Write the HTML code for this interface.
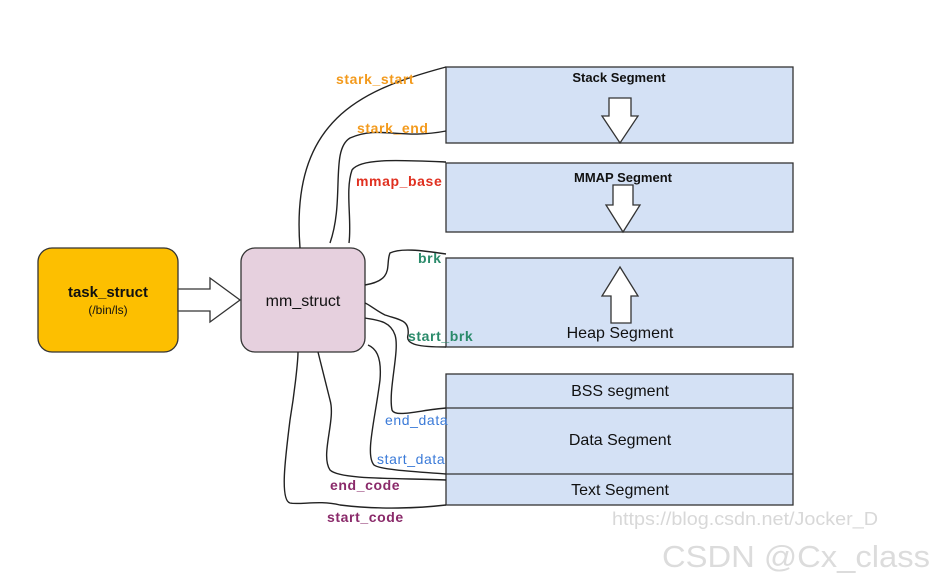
<!DOCTYPE html>
<html><head><meta charset="utf-8"><style>
body{margin:0;background:#fff;}
svg{display:block;font-family:"Liberation Sans",Arial,sans-serif;}
</style></head><body>
<svg width="946" height="582" viewBox="0 0 946 582" xmlns="http://www.w3.org/2000/svg">
<g fill="#d4e1f5" stroke="#333" stroke-width="1.3">
<rect x="446" y="67" width="347" height="76"/>
<rect x="446" y="163" width="347" height="69"/>
<rect x="446" y="258" width="347" height="89"/>
<rect x="446" y="374" width="347" height="131"/>
<line x1="446" y1="408" x2="793" y2="408"/>
<line x1="446" y1="474" x2="793" y2="474"/>
</g>
<rect x="38" y="248" width="140" height="104" rx="14" fill="#fdbf00" stroke="#333" stroke-width="1.3"/>
<rect x="241" y="248" width="124" height="104" rx="14" fill="#e6d0de" stroke="#333" stroke-width="1.3"/>
<g fill="#fff" stroke="#333" stroke-width="1.3">
<path d="M178,289 H210 V278 L240,300 L210,322 V311 H178 Z"/>
<path d="M609,98 H631 V116 H638 L620,143 L602,116 H609 Z"/>
<path d="M613,185 H633 V205 H640 L623,232 L606,205 H613 Z"/>
<path d="M611,323 H631 V296 H638 L620,267 L602,296 H611 Z"/>
</g>
<g fill="none" stroke="#222" stroke-width="1.4">
<path d="M446,67 C360,90 290,120 300,248"/>
<path d="M446,131 C400,140 380,125 350,138 C330,150 345,200 330,243"/>
<path d="M446,162 C400,160 360,158 352,170 C345,190 352,220 349,243"/>
<path d="M446,254 C420,250 400,248 390,253 C385,265 395,280 365,285"/>
<path d="M446,347 C420,347 405,345 408,335 C410,320 400,320 385,315 C375,310 370,305 365,303"/>
<path d="M446,408 C420,410 395,418 392,410 C388,390 400,350 395,335 C390,320 375,320 365,318"/>
<path d="M446,474 C420,472 380,470 374,465 C365,455 375,420 380,380 C382,355 375,348 368,345"/>
<path d="M446,480 C400,478 340,480 330,470 C320,455 336,420 330,400 C325,380 320,360 318,352"/>
<path d="M446,505 C420,508 380,510 340,505 C320,500 300,505 290,503 C280,500 285,460 290,420 C295,390 298,360 298,352"/>
</g>
<g font-size="14" font-weight="bold" letter-spacing="0.6">
<text x="336" y="84" fill="#f39a1c">stark_start</text>
<text x="357" y="133" fill="#f39a1c">stark_end</text>
<text x="356" y="186" fill="#e03020">mmap_base</text>
<text x="418" y="263" fill="#2a8a6a">brk</text>
<text x="408" y="341" fill="#2a8a6a">start_brk</text>
<text x="330" y="490" fill="#8a2a6a">end_code</text>
<text x="327" y="522" fill="#8a2a6a">start_code</text>
</g>
<g font-size="14" fill="#3a7ad8" letter-spacing="0.6">
<text x="385" y="425">end_data</text>
<text x="377" y="464">start_data</text>
</g>
<g font-size="13" font-weight="bold" text-anchor="middle" fill="#111">
<text x="619" y="82">Stack Segment</text>
<text x="623" y="182">MMAP Segment</text>
</g>
<g font-size="16" text-anchor="middle" fill="#111">
<text x="620" y="338">Heap Segment</text>
<text x="620" y="396">BSS segment</text>
<text x="620" y="445">Data Segment</text>
<text x="620" y="495">Text Segment</text>
<text x="303" y="306">mm_struct</text>
</g>
<text x="108" y="297" text-anchor="middle" font-size="15" font-weight="bold" fill="#111">task_struct</text>
<text x="108" y="314" text-anchor="middle" font-size="12" fill="#111">(/bin/ls)</text>
<text x="612" y="525" font-size="18" fill="#d8d8d8" textLength="266" lengthAdjust="spacingAndGlyphs">https://blog.csdn.net/Jocker_D</text>
<text x="662" y="567" font-size="31" fill="#dcdcdc" textLength="268" lengthAdjust="spacingAndGlyphs">CSDN @Cx_class</text>
</svg>
</body></html>
